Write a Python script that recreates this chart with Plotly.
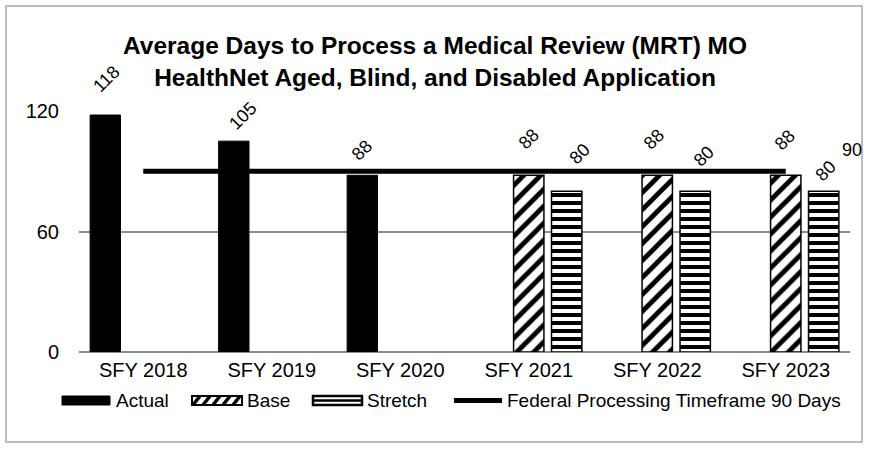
import plotly.graph_objects as go

# data
categories = ["SFY 2018", "SFY 2019", "SFY 2020", "SFY 2021", "SFY 2022", "SFY 2023"]
actual = [118, 105, 88, None, None, None]
base = [None, None, None, 88, 88, 88]
stretch = [None, None, None, 80, 80, 80]
federal = [90, 90, 90, 90, 90, 90]

title_text = ("Average Days to Process a Medical Review (MRT) MO<br>"
              "HealthNet Aged, Blind, and Disabled Application")

FONT = "Liberation Sans, Arial, sans-serif"
W, H = 870, 451
L, R, T, B = 79, 20, 111, 99
PW, PH = W - L - R, H - T - B


def px(x):  # pixel -> paper x
    return (x - L) / PW


def py(y):  # pixel -> paper y
    return (H - B - y) / PH


fig = go.Figure()
fig.add_trace(go.Bar(x=categories, y=actual, name="Actual",
                     marker=dict(color="black", line=dict(color="black", width=1))))
fig.add_trace(go.Bar(x=categories, y=base, name="Base",
                     marker=dict(color="white", line=dict(color="black", width=1.5),
                                 pattern=dict(shape="/", fgcolor="black", bgcolor="white",
                                              fgopacity=1, size=12, solidity=0.4))))
fig.add_trace(go.Bar(x=categories, y=stretch, name="Stretch",
                     marker=dict(color="white", line=dict(color="black", width=1.5),
                                 pattern=dict(shape="-", fgcolor="black", bgcolor="white",
                                              fgopacity=1, size=8, solidity=0.5))))
fig.add_trace(go.Scatter(x=categories, y=federal, mode="lines",
                         name="Federal Processing Timeframe 90 Days",
                         line=dict(color="black", width=5), cliponaxis=False))

# data labels (rotated like the original), offsets in px from bar top
slot = PW / 6 * (1 - 0.114) / 3
label_sets = [
    (actual, -slot, [(1, -36), (9, -25), (0, -25)]),
    (base, 0, [(0, -36), (-3, -36), (-1, -35)]),
    (stretch, slot, [(13, -37), (9, -35), (2, -20)]),
]
for series, dx0, offs in label_sets:
    k = 0
    for cat, v in zip(categories, series):
        if v is None:
            continue
        dx, dy = offs[k]
        k += 1
        fig.add_annotation(x=cat, y=v, text=str(v), showarrow=False, textangle=-45,
                           xshift=dx0 + dx, yshift=-dy,
                           font=dict(family=FONT, size=18, color="black"))
fig.add_annotation(x=categories[-1], y=federal[-1], text=str(federal[-1]), showarrow=False,
                   xshift=66, yshift=21, font=dict(family=FONT, size=18, color="black"))

# title
fig.add_annotation(xref="paper", yref="paper", x=px(435), y=py(61), text="<b>%s</b>" % title_text,
                   xanchor="center", yanchor="middle", showarrow=False,
                   font=dict(family=FONT, size=24.5, color="black"))

# custom legend
ly0, ly1 = 396, 405
lyc = (ly0 + ly1) / 2
shapes = []
shapes.append(dict(type="rect", xref="paper", yref="paper", x0=px(62), x1=px(110),
                   y0=py(ly1), y1=py(ly0), fillcolor="black", line=dict(color="black", width=1)))
# base swatch with diagonal hatch
shapes.append(dict(type="rect", xref="paper", yref="paper", x0=px(192), x1=px(242),
                   y0=py(ly1), y1=py(ly0), fillcolor="white", line=dict(color="black", width=2)))
for sx in range(193, 240, 10):
    shapes.append(dict(type="line", xref="paper", yref="paper", x0=px(sx), x1=px(min(sx + 7, 241)),
                       y0=py(ly1), y1=py(ly0), line=dict(color="black", width=3.5)))
# stretch swatch with horizontal lines
shapes.append(dict(type="rect", xref="paper", yref="paper", x0=px(313), x1=px(362),
                   y0=py(ly1), y1=py(ly0), fillcolor="white", line=dict(color="black", width=2.5)))
shapes.append(dict(type="line", xref="paper", yref="paper", x0=px(313), x1=px(362),
                   y0=py(lyc), y1=py(lyc), line=dict(color="black", width=2.5)))
# line swatch
shapes.append(dict(type="line", xref="paper", yref="paper", x0=px(454), x1=px(502),
                   y0=py(lyc), y1=py(lyc), line=dict(color="black", width=5)))
# outer chart border
shapes.append(dict(type="rect", xref="paper", yref="paper", x0=px(6), x1=px(862),
                   y0=py(442), y1=py(6), line=dict(color="#a6a6a6", width=1.5), layer="below"))

for txt, x0 in [("Actual", 114), ("Base", 245), ("Stretch", 365),
                ("Federal Processing Timeframe 90 Days", 505)]:
    fig.add_annotation(xref="paper", yref="paper", x=px(x0), y=py(lyc), text=txt,
                       xanchor="left", yanchor="middle", showarrow=False,
                       font=dict(family=FONT, size=19, color="black"))

fig.update_layout(
    width=W, height=H,
    margin=dict(l=L, r=R, t=T, b=B, autoexpand=False),
    paper_bgcolor="white", plot_bgcolor="white",
    barmode="group", bargap=0.114, bargroupgap=0.2,
    showlegend=False,
    shapes=shapes,
    font=dict(family=FONT, size=20, color="black"),
)
fig.update_xaxes(range=[-0.5, len(categories) - 0.5], autorange=False,
                 showgrid=False, showline=False, ticks="", tickfont=dict(size=20),
                 ticklabelstandoff=4)
fig.update_yaxes(range=[0, 120], autorange=False, tickvals=[0, 60, 120], showgrid=True,
                 gridcolor="#8c8c8c", gridwidth=1.5, zeroline=True,
                 zerolinecolor="#8c8c8c", zerolinewidth=1.5, showline=False,
                 ticks="", tickfont=dict(size=20), ticklabelstandoff=19)

# the page body has a default 8px margin; drop it so the chart sits at the window corner
fig.write_html("out.html", config={"displayModeBar": False},
               post_script="document.body.style.margin='0';")
